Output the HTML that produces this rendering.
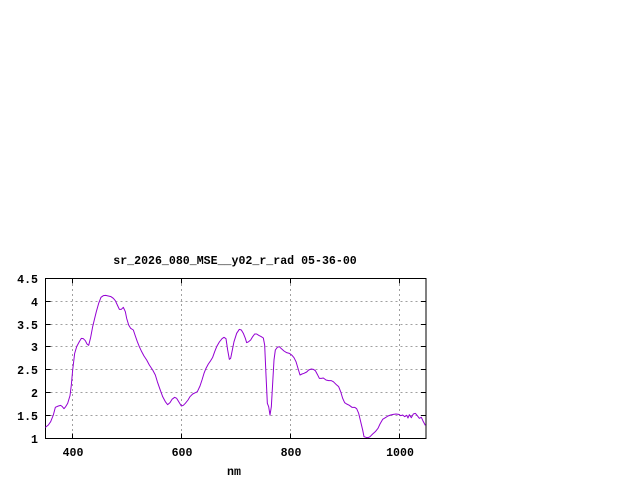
<!DOCTYPE html>
<html><head><style>
html,body{margin:0;padding:0;background:#fff;}
svg{display:block;}
text{font-family:"Liberation Mono","DejaVu Sans Mono",monospace;font-size:11.6px;font-weight:bold;fill:#000;}
</style></head><body>
<svg width="640" height="480" viewBox="0 0 640 480" xmlns="http://www.w3.org/2000/svg">
<rect width="640" height="480" fill="#fff"/>
<g stroke="#a0a0a0" stroke-width="1" stroke-dasharray="2,3" fill="none">
<line x1="45.5" y1="415.5" x2="426" y2="415.5"/>
<line x1="45.5" y1="392.5" x2="426" y2="392.5"/>
<line x1="45.5" y1="369.5" x2="426" y2="369.5"/>
<line x1="45.5" y1="346.5" x2="426" y2="346.5"/>
<line x1="45.5" y1="324.5" x2="426" y2="324.5"/>
<line x1="45.5" y1="301.5" x2="426" y2="301.5"/>
<line x1="72.5" y1="279" x2="72.5" y2="438"/>
<line x1="181.5" y1="279" x2="181.5" y2="438"/>
<line x1="290.5" y1="279" x2="290.5" y2="438"/>
<line x1="399.5" y1="279" x2="399.5" y2="438"/>
</g>
<g stroke="#000" stroke-width="1" fill="none">
<rect x="45.5" y="278.5" width="380.5" height="160"/>
<path d="M45.5 415.5h5M45.5 392.5h5M45.5 369.5h5M45.5 346.5h5M45.5 324.5h5M45.5 301.5h5
M426 415.5h-5M426 392.5h-5M426 369.5h-5M426 346.5h-5M426 324.5h-5M426 301.5h-5
M72.5 438.5v-5M181.5 438.5v-5M290.5 438.5v-5M399.5 438.5v-5
M72.5 278.5v5M181.5 278.5v5M290.5 278.5v5M399.5 278.5v5"/>
</g>
<g text-anchor="end">
<text x="38" y="443">1</text>
<text x="38" y="420">1.5</text>
<text x="38" y="397">2</text>
<text x="38" y="374">2.5</text>
<text x="38" y="351">3</text>
<text x="38" y="329">3.5</text>
<text x="38" y="306">4</text>
<text x="38" y="283">4.5</text>
</g>
<g text-anchor="middle">
<text x="73" y="456">400</text>
<text x="182" y="456">600</text>
<text x="291" y="456">800</text>
<text x="400" y="456">1000</text>
<text x="234" y="475">nm</text>
<text x="235" y="264">sr_2026_080_MSE__y02_r_rad 05-36-00</text>
</g>
<g transform="translate(0,250) scale(0.3333333)">
<polyline fill="none" stroke="#9400d3" stroke-width="3" stroke-linejoin="round" points="136,532 145,525 152,515 160,495 166,472 175,468 182,466 187,470 192,476 197,470 203,460 210,437 214,405 218,360 224,310 230,290 238,275 244,265 250,266 256,272 261,282 266,286 272,262 278,230 284,205 289,185 296,160 303,142 310,137 317,136 325,138 333,140 340,145 346,152 352,165 358,178 364,178 370,172 376,185 380,205 386,225 392,235 400,240 406,258 412,275 418,290 425,305 432,318 440,330 448,345 458,360 466,375 472,395 480,418 488,440 496,455 503,464 510,458 516,448 524,442 530,445 536,455 544,468 550,466 556,460 564,450 570,440 578,432 586,428 592,425 600,408 606,390 612,370 618,355 625,342 632,332 638,322 644,305 650,290 658,276 666,266 672,262 678,266 683,300 688,328 692,325 697,300 702,275 710,250 718,238 724,240 730,250 736,265 740,278 746,275 752,270 758,260 764,252 770,252 776,256 784,260 790,264 794,285 798,375 802,460 806,470 810,495 814,470 818,400 822,330 826,300 832,292 838,290 844,296 852,303 860,308 868,310 876,316 882,323 888,335 894,355 900,375 906,372 912,370 920,366 926,360 934,357 940,358 946,362 952,373 958,385 964,385 970,384 978,390 986,392 994,392 1000,395 1008,403 1016,410 1022,425 1028,445 1034,458 1040,462 1048,466 1056,472 1064,472 1070,476 1076,490 1082,515 1088,540 1092,560 1098,562 1104,563 1110,560 1118,552 1126,545 1134,535 1140,522 1148,508 1156,503 1164,498 1172,495 1180,493 1188,492 1196,493 1202,497 1208,495 1214,500 1220,496 1224,504 1228,494 1234,503 1240,492 1246,490 1252,497 1258,505 1264,502 1270,515 1276,526"/>
</g>
</svg>
</body></html>
